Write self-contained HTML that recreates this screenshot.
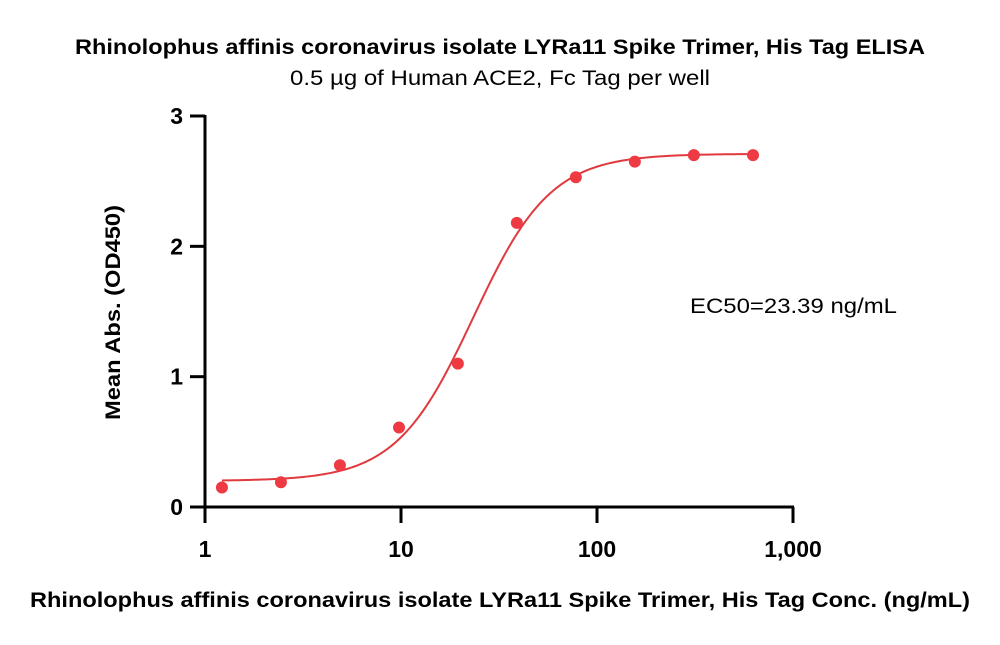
<!DOCTYPE html>
<html><head><meta charset="utf-8"><style>
body{margin:0;background:#fff;}
svg text{font-family:"Liberation Sans",sans-serif;}
</style></head><body>
<svg id="chart" width="1000" height="640" viewBox="0 0 1000 640" xmlns="http://www.w3.org/2000/svg">
<text x="75" y="54" font-size="21" font-weight="bold" textLength="850" lengthAdjust="spacingAndGlyphs">Rhinolophus affinis coronavirus isolate LYRa11 Spike Trimer, His Tag ELISA</text>
<text x="290" y="85" font-size="21" textLength="420" lengthAdjust="spacingAndGlyphs">0.5 µg of Human ACE2, Fc Tag per well</text>
<text transform="translate(120,420) rotate(-90)" font-size="21" font-weight="bold" textLength="215" lengthAdjust="spacingAndGlyphs">Mean Abs. (OD450)</text>
<text x="30" y="607" font-size="21" font-weight="bold" textLength="940" lengthAdjust="spacingAndGlyphs">Rhinolophus affinis coronavirus isolate LYRa11 Spike Trimer, His Tag Conc. (ng/mL)</text>
<text x="690" y="313" font-size="21" textLength="207" lengthAdjust="spacingAndGlyphs">EC50=23.39 ng/mL</text>
<g id="axes"></g>
<g id="marks"></g>
</svg>
<script>
const concentrations=[1.22,2.44,4.88,9.77,19.5,39,78,156,312,625];
const meanAbs=[0.15,0.19,0.32,0.61,1.10,2.18,2.53,2.65,2.70,2.70];
const yTicks=[0,1,2,3];
const xTicks=[1,10,100,1000];
const xTickLabels=["1","10","100","1,000"];
const fitBottom=0.2, fitTop=2.71, fitEC50=23.39, fitHill=2.2;

const NS="http://www.w3.org/2000/svg";
const x=v=>205+196*Math.log10(v);
const y=v=>507-130.33*v;
function mk(tag,attrs,parent){const e=document.createElementNS(NS,tag);for(const k in attrs)e.setAttribute(k,attrs[k]);parent.appendChild(e);return e;}
const axes=document.getElementById('axes'), marks=document.getElementById('marks');

let a=mk('line',{x1:205,y1:y(3)-1,x2:205,y2:509,stroke:'#000','stroke-width':3},axes);

a=mk('line',{x1:190,y1:507,x2:794,y2:507,stroke:'#000','stroke-width':3},axes);

yTicks.forEach(t=>{
 const l=mk('line',{x1:190,y1:y(t),x2:205,y2:y(t),stroke:'#000','stroke-width':3},axes);
 
 const tx=mk('text',{x:183,y:y(t)+8,'text-anchor':'end','font-size':23,'font-weight':'bold'},axes);
 tx.textContent=t;
 
});
xTicks.forEach((t,i)=>{
 const l=mk('line',{x1:x(t),y1:507,x2:x(t),y2:523,stroke:'#000','stroke-width':3},axes);
 
 const tx=mk('text',{x:x(t),y:557,'text-anchor':'middle','font-size':23,'font-weight':'bold'},axes);
 tx.textContent=xTickLabels[i];
 
});
const f=c=>fitBottom+(fitTop-fitBottom)/(1+Math.pow(fitEC50/c,fitHill));
let d='';const lo=Math.log10(concentrations[0]),hi=Math.log10(concentrations[concentrations.length-1]);
for(let i=0;i<=200;i++){const c=Math.pow(10,lo+(hi-lo)*i/200);d+=(i?'L':'M')+x(c).toFixed(2)+','+y(f(c)).toFixed(2);}
const p=mk('path',{d:d,fill:'none',stroke:'#e0393e','stroke-width':2},marks);

concentrations.forEach((c,i)=>{
 const pt=mk('circle',{cx:x(c),cy:y(meanAbs[i]),r:6,fill:'#ee3a43'},marks);
 
});
</script>
</body></html>
